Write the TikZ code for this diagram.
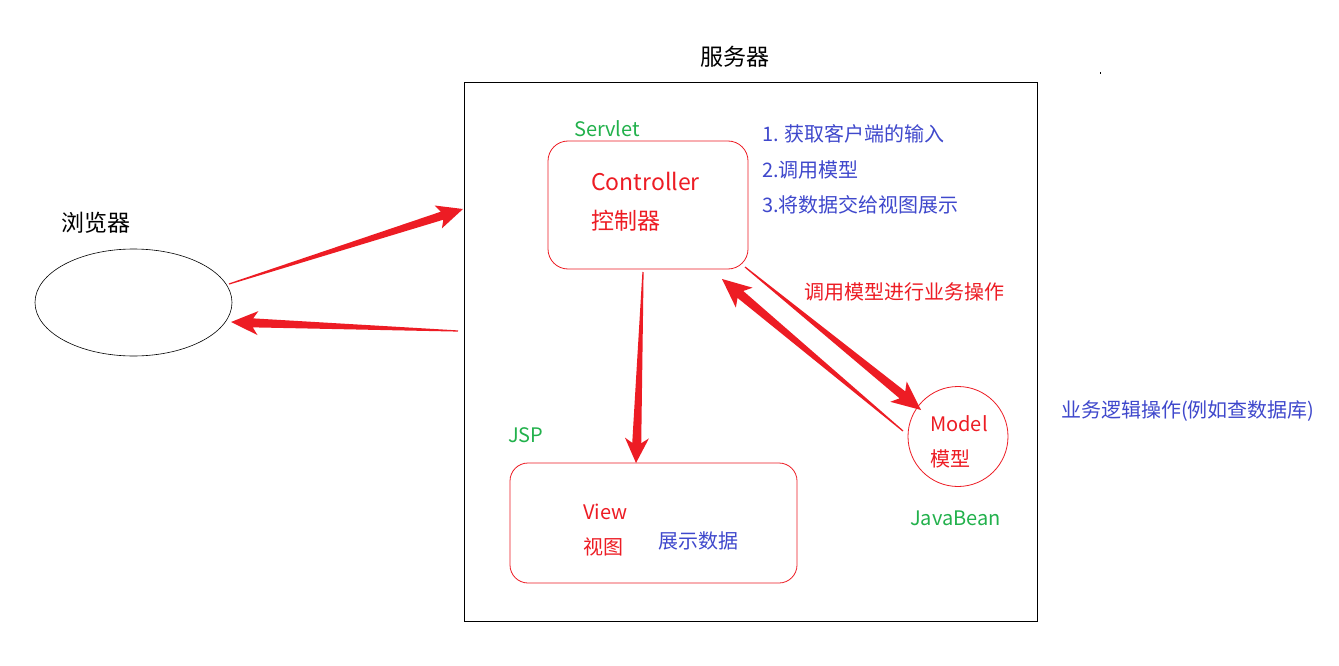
\documentclass[tikz,border=0pt]{standalone}
\usepackage{fontspec}
\setmainfont{Noto Sans CJK SC}
\usetikzlibrary{calc,shapes.geometric}
\definecolor{ared}{HTML}{ED1C24}
\definecolor{tgreen}{HTML}{22B14C}
\definecolor{tblue}{HTML}{3F48CC}
\newcommand\tarrow[6]{% tail, tip, head length, barb length, head half width, shaft half width
  \coordinate (hb) at ($(#2)!#3!(#1)$);
  \coordinate (hw) at ($(#2)!#4!(#1)$);
  \fill[ared] ($(#1)!0.6pt!90:(#2)$) -- ($(hb)!#6!90:(#2)$) -- ($(hw)!#5!90:(#2)$) -- (#2)
    -- ($(hw)!#5!-90:(#2)$) -- ($(hb)!#6!-90:(#2)$) -- ($(#1)!0.6pt!-90:(#2)$) -- cycle;}
\begin{document}
\begin{tikzpicture}[x=1pt,y=-1pt,
  big/.style={font=\fontsize{23}{25}\selectfont, inner sep=0pt, anchor=west},
  small/.style={font=\fontsize{20}{22}\selectfont, inner sep=0pt, anchor=west},
  redbox/.style={draw=ared, line width=0.8pt, rounded corners=20pt, inner sep=0pt}]
\useasboundingbox (0,0) rectangle (1339,666);
\fill[white] (0,0) rectangle (1339,666);
% frames
\node[draw=black, line width=0.8pt, minimum width=573pt, minimum height=539pt, inner sep=0pt] (server) at (750.5,351.5) {};
\node[draw=black, line width=0.6pt, ellipse, minimum width=197pt, minimum height=107pt, inner sep=0pt] (browser) at (133.5,302.5) {};
\node[redbox, minimum width=200pt, minimum height=128pt] (ctrl) at (648,205) {};
\node[redbox, rounded corners=18pt, minimum width=287pt, minimum height=120pt] (view) at (653.5,523) {};
\node[draw=ared, line width=0.8pt, circle, minimum size=100pt, inner sep=0pt] (model) at (958,436.5) {};
\fill[black] (1099.5,72.5) rectangle (1101,74) coordinate (dot);
% texts
\node[big] (t1) at (700,57) {服务器};
\node[big] (t2) at (61,223) {浏览器};
\node[small, text=tgreen] (t3) at (574,129) {Servlet};
\node[big, text=ared] (t4) at (591,181) {Controller};
\node[big, text=ared] (t5) at (591,221) {控制器};
\node[small, text=tblue] (t6) at (762,134) {1. 获取客户端的输入};
\node[small, text=tblue] (t7) at (762,170) {2.调用模型};
\node[small, text=tblue] (t8) at (762,205) {3.将数据交给视图展示};
\node[small, text=ared] (t9) at (804,292) {调用模型进行业务操作};
\node[small, text=tgreen] (t10) at (508,435) {JSP};
\node[small, text=ared] (t11) at (583,512) {View};
\node[small, text=ared] (t12) at (583,547) {视图};
\node[small, text=tblue] (t13) at (658,541) {展示数据};
\node[small, text=ared] (t14) at (930,424) {Model};
\node[small, text=ared] (t15) at (930,459) {模型};
\node[small, text=tgreen] (t16) at (910,518) {JavaBean};
\node[small, text=tblue] (t17) at (1061,411) {业务逻辑操作(例如查数据库)};
% arrow end points
\coordinate (a1s) at (229,284);
\coordinate (a1e) at (463,209);
\coordinate (a2s) at (458,331);
\coordinate (a2e) at (231,322);
\coordinate (a3s) at (643,272);
\coordinate (a3e) at (636,463);
\coordinate (a4s) at (745,267);
\coordinate (a4e) at (921,410);
\coordinate (a5s) at (903,431);
\coordinate (a5e) at (722,279);
\tarrow{a1s}{a1e}{22pt}{26pt}{12pt}{4.2pt}
\tarrow{a2s}{a2e}{22pt}{27pt}{12pt}{4.5pt}
\tarrow{a3s}{a3e}{20pt}{25pt}{12pt}{4.5pt}
\tarrow{a4s}{a4e}{24pt}{29pt}{13pt}{4.5pt}
\tarrow{a5s}{a5e}{24pt}{29pt}{13pt}{4.5pt}
\end{tikzpicture}
\end{document}
